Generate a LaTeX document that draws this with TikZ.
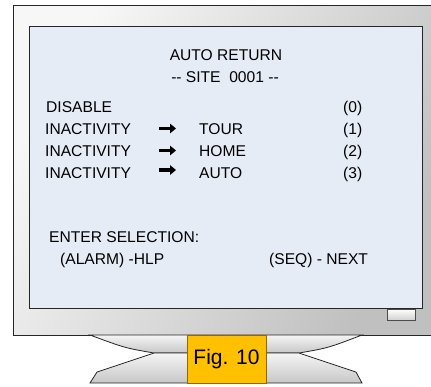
\documentclass[tikz,border=0pt]{standalone}
\usepackage{fontspec}
\setmainfont{Liberation Sans}
\usetikzlibrary{positioning, arrows.meta}

\definecolor{screenblue}{RGB}{230,236,246}
\definecolor{bezelgray}{RGB}{192,192,192}
\definecolor{figgold}{RGB}{255,192,0}
\definecolor{figedge}{RGB}{140,105,10}

\begin{document}
\begin{tikzpicture}[
          x=1pt, y=-1pt,
          frame/.style={draw=black!85, line width=0.8pt},
          osd/.style={inner sep=0pt, anchor=base west, font=\fontsize{15.6}{18}\selectfont},
          ptr/.style={line width=3.2pt, -{Triangle[length=6pt,width=9.5pt]}},
          figbox/.style={draw=figedge, fill=figgold, line width=0.8pt, inner sep=0pt,
                         minimum width=79pt, minimum height=48pt,
                         font=\fontsize{21}{24}\selectfont}
        ]
        \useasboundingbox (0,0) rectangle (431,386);
        % monitor
        \path[frame, shade, top color=white!97!black, bottom color=bezelgray, shading angle=60]
          (13,5) rectangle (431,335);
        \draw[frame, fill=screenblue] (29,26) rectangle (422,308);
        \path[draw=black!70, line width=0.6pt, shade, top color=white, bottom color=black!18]
          (387,309) rectangle (415,320);
        % stand
        \path[frame, shade, top color=white!96!black, bottom color=black!22]
          (90,335) .. controls (125,348) .. (154,353) -- (299,353)
          .. controls (328,348) .. (362,335) -- cycle;
        \path[frame, shade, top color=white!96!black, bottom color=black!22]
          (154,353) -- (97,372) -- (90,383) -- (362,383) -- (356,372) -- (299,353) -- cycle;
        \node[figbox] (fig) at (226.5,359) {Fig. 10};

        % menu text
        \node[osd, anchor=base] (title) at (226,60) {AUTO RETURN};
        \node[osd, anchor=base] (site) at (225,82) {-{}- SITE\ \ 0001 -{}-};
        \node[osd] (dis) at (46,112) {DISABLE};
        \node[osd] (inact1) at (45,134) {INACTIVITY};
        \node[osd] (inact2) at (45,156) {INACTIVITY};
        \node[osd] (inact3) at (45,178) {INACTIVITY};
        \node[osd] (tour) at (199,134) {TOUR};
        \node[osd] (home) at (199,156) {HOME};
        \node[osd] (auto) at (199,178) {AUTO};
        \node[osd] (opt0) at (343,112) {(0)};
        \node[osd] (opt1) at (343,134) {(1)};
        \node[osd] (opt2) at (343,156) {(2)};
        \node[osd] (opt3) at (343,178) {(3)};
        \coordinate (arr1a) at (159,128.5);
        \coordinate (arr1b) at (176,128.5);
        \coordinate (arr2a) at (159,150.5);
        \coordinate (arr2b) at (176,150.5);
        \coordinate (arr3a) at (159,170);
        \coordinate (arr3b) at (176,170);
        \draw[ptr] (arr1a) -- (arr1b);
        \draw[ptr] (arr2a) -- (arr2b);
        \draw[ptr] (arr3a) -- (arr3b);
        \node[osd] (enter) at (49,242) {ENTER SELECTION:};
        \node[osd] (alarm) at (60,264) {(ALARM) -HLP};
        \node[osd] (seq) at (269,264) {(SEQ) - NEXT};
        \end{tikzpicture}
\end{document}
